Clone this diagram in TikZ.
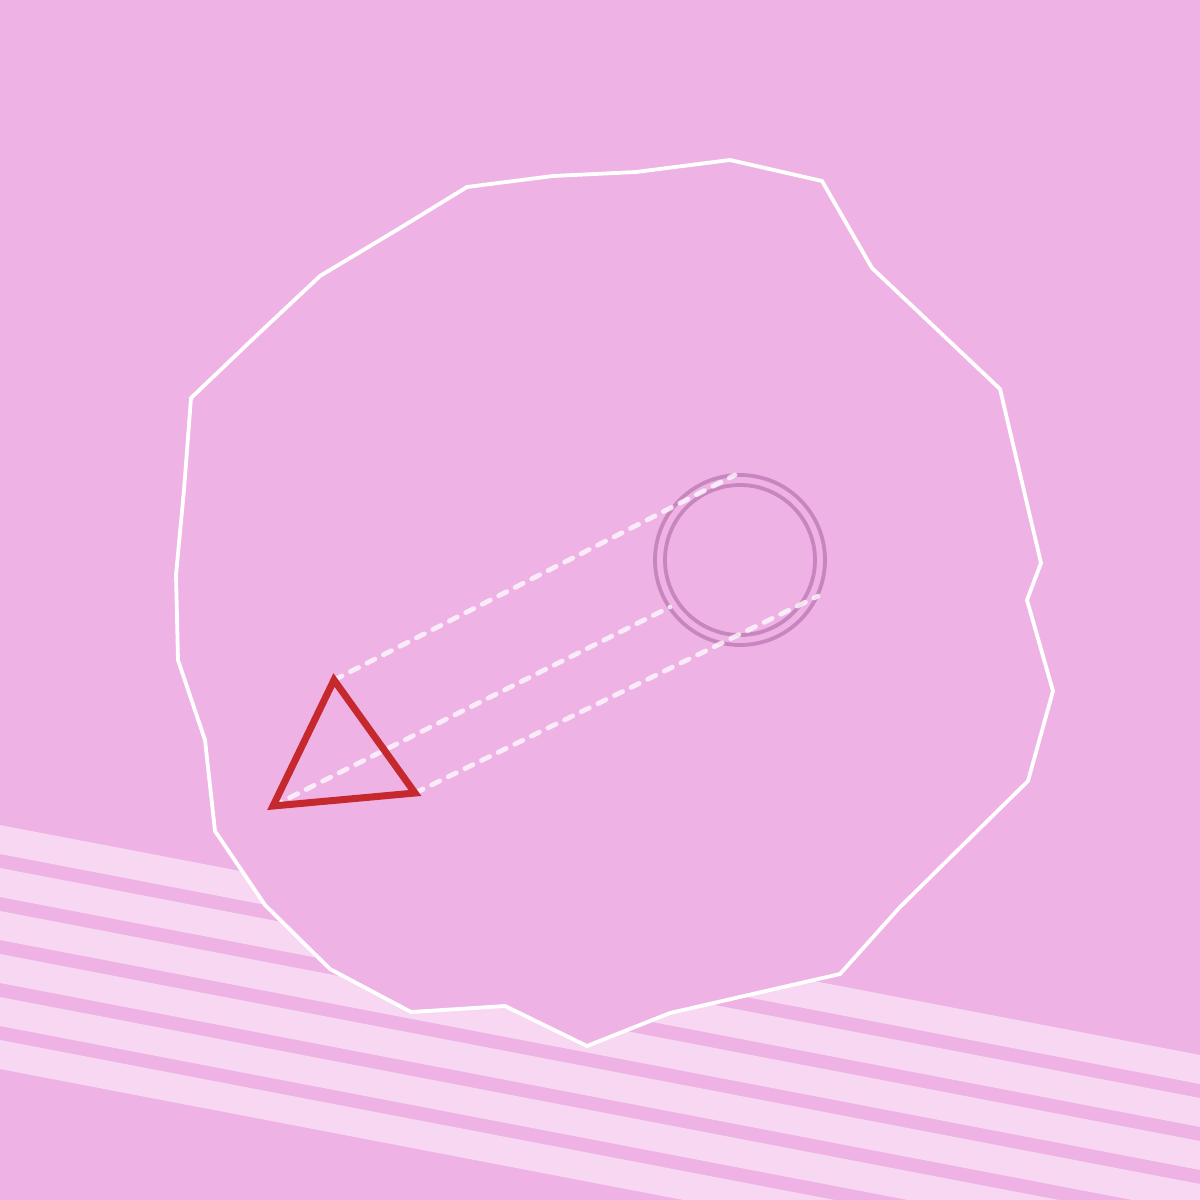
\documentclass[tikz,border=0pt]{standalone}
\definecolor{bgpink}{HTML}{EFB2E5}
\definecolor{stripe}{HTML}{F7D7F1}
\definecolor{ring}{HTML}{C886BF}
\definecolor{tri}{HTML}{C6292D}
\begin{document}
\begin{tikzpicture}[x=1pt,y=-1pt,
  blob/.style={draw=white,line width=3.8pt,fill=bgpink,line join=miter},
  ringline/.style={draw=ring,line width=3.8pt},
  tristyle/.style={draw=tri,line width=7pt,line join=miter},
  guide/.style={draw=white,draw opacity=0.75,line width=4.8pt,line cap=round,dash pattern=on 9pt off 9.5pt}]
\useasboundingbox (0,0) rectangle (1200,1200);
\fill[bgpink] (0,0) rectangle (1200,1200);
\begin{scope}
\clip (0,0) rectangle (1200,1200);
\foreach \i in {0,...,5}{
  \fill[stripe] (0,{825+43*\i}) -- (1200,{1055+43*\i}) -- (1200,{1084+43*\i}) -- (0,{854+43*\i}) -- cycle;
}
\end{scope}
\draw[blob] (730,160) -- (822,181) -- (872,268) -- (1000,389) -- (1041,563) -- (1027,600) -- (1053,691) -- (1028,781) -- (900,907) -- (840,974) -- (670,1013) -- (587,1046) -- (505,1006) -- (411,1012) -- (330,969) -- (265,905) -- (215,831) -- (205,740) -- (178,660) -- (176,575) -- (184,490) -- (191,398) -- (255,337) -- (320,276) -- (400,228) -- (467,187) -- (553,176) -- (636,172) -- cycle;
\coordinate (c) at (740,560);
\draw[ringline] (c) circle[radius=85];
\draw[ringline] (c) circle[radius=75];
\coordinate (ta) at (334,680);
\coordinate (tb) at (273,806);
\coordinate (tc) at (415,793);
\coordinate (ca) at (735,475);
\coordinate (cb) at (670,607);
\coordinate (cc) at (818,596);
\draw[guide] (ta) -- (ca);
\draw[guide] (tb) -- (cb);
\draw[guide] (tc) -- (cc);
\draw[tristyle] (ta) -- (tc) -- (tb) -- cycle;
\end{tikzpicture}
\end{document}
